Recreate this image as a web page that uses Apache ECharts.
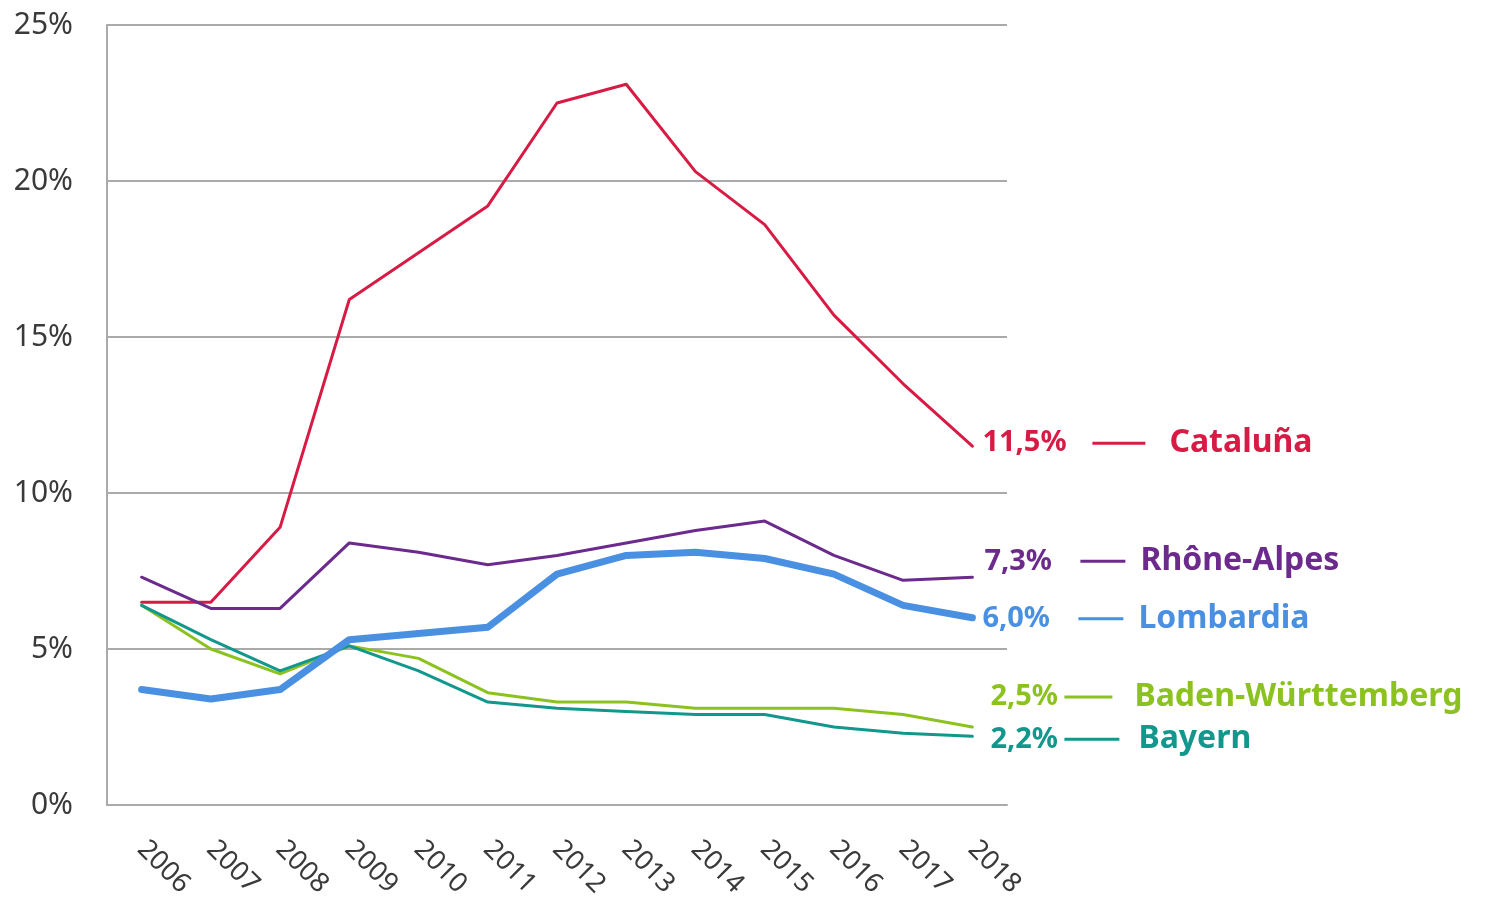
<!DOCTYPE html>
<html>
<head>
<meta charset="utf-8">
<script src="https://cdn.jsdelivr.net/npm/echarts@6/dist/echarts.min.js"></script>
<style>
  html, body { margin: 0; padding: 0; background: #fff; }
  #chart { width: 1492px; height: 906px; }
</style>
</head>
<body>
<div id="chart"></div>
<script>
const years = ['2006', '2007', '2008', '2009', '2010', '2011', '2012', '2013', '2014', '2015', '2016', '2017', '2018']
const yTicks = [0, 5, 10, 15, 20, 25]

const cataluna = [6.5, 6.5, 8.9, 16.2, 17.7, 19.2, 22.5, 23.1, 20.3, 18.6, 15.7, 13.5, 11.5]
const rhoneAlpes = [7.3, 6.3, 6.3, 8.4, 8.1, 7.7, 8.0, 8.4, 8.8, 9.1, 8.0, 7.2, 7.3]
const lombardia = [3.7, 3.4, 3.7, 5.3, 5.5, 5.7, 7.4, 8.0, 8.1, 7.9, 7.4, 6.4, 6.0]
const badenWuerttemberg = [6.4, 5.0, 4.2, 5.1, 4.7, 3.6, 3.3, 3.3, 3.1, 3.1, 3.1, 2.9, 2.5]
const bayern = [6.4, 5.3, 4.3, 5.1, 4.3, 3.3, 3.1, 3.0, 2.9, 2.9, 2.5, 2.3, 2.2]

const FONT = '"Noto Sans", "Open Sans", sans-serif'
const AXIS_GRAY = '#aaaaaa'

// vw = room for the value text before the little dash
const regions = [
  { name: 'Cataluña', data: cataluna, color: '#d81b45', width: 3, offset: [0, -3], vw: 110, line: 53, gap: 24 },
  { name: 'Rhône-Alpes', data: rhoneAlpes, color: '#6b2a8c', width: 3, offset: [2, -16], vw: 96, line: 45, gap: 15 },
  { name: 'Lombardia', data: lombardia, color: '#4a90e2', width: 7, offset: [0, 1], vw: 96, line: 45, gap: 15 },
  { name: 'Baden-Württemberg', data: badenWuerttemberg, color: '#8cc21f', width: 3, offset: [8, -30], vw: 74, line: 48, gap: 22 },
  { name: 'Bayern', data: bayern, color: '#12978c', width: 3, offset: [8, 3], vw: 74, line: 55, gap: 19 },
]

function pct(v) {
  return v.toFixed(1).replace('.', ',') + '%'
}

const series = regions.map((r) => ({
  name: r.name,
  type: 'line',
  data: r.data,
  showSymbol: false,
  silent: true,
  lineStyle: { color: r.color, width: r.width, cap: 'round', join: 'round' },
  itemStyle: { color: r.color },
  z: r.name === 'Lombardia' ? 3 : 2,
  endLabel: {
    show: true,
    distance: 10,
    offset: r.offset,
    formatter: () => `{v|${pct(r.data[r.data.length - 1])}}{l|}{b|}{n|${r.name}}`,
    rich: {
      v: { width: r.vw, color: r.color, fontFamily: FONT, fontWeight: 'bold', fontSize: 29 },
      l: { width: r.line, height: 3, backgroundColor: r.color },
      b: { width: r.gap, height: 2 },
      n: { color: r.color, fontFamily: FONT, fontWeight: 'bold', fontSize: 32 },
    },
  },
}))

const chart = echarts.init(document.getElementById('chart'))
chart.setOption({
  animation: false,
  backgroundColor: '#fff',
  grid: { left: 107, right: 485, top: 25, bottom: 101 },
  xAxis: {
    type: 'category',
    data: years,
    boundaryGap: true,
    axisLine: { show: true, lineStyle: { color: AXIS_GRAY, width: 2 } },
    axisTick: { show: false },
    axisLabel: {
      rotate: -45,
      margin: 40,
      color: '#3a3a3a',
      fontFamily: FONT,
      fontSize: 27,
    },
  },
  yAxis: {
    type: 'value',
    min: 0,
    max: 25,
    interval: 5,
    axisLine: { show: true, lineStyle: { color: AXIS_GRAY, width: 2 } },
    axisTick: { show: false },
    axisLabel: {
      margin: 34,
      color: '#3a3a3a',
      fontFamily: FONT,
      fontSize: 30,
      formatter: (v) => (yTicks.includes(v) ? v + '%' : ''),
    },
    splitLine: { show: true, lineStyle: { color: AXIS_GRAY, width: 2 } },
  },
  series,
})
</script>
</body>
</html>
